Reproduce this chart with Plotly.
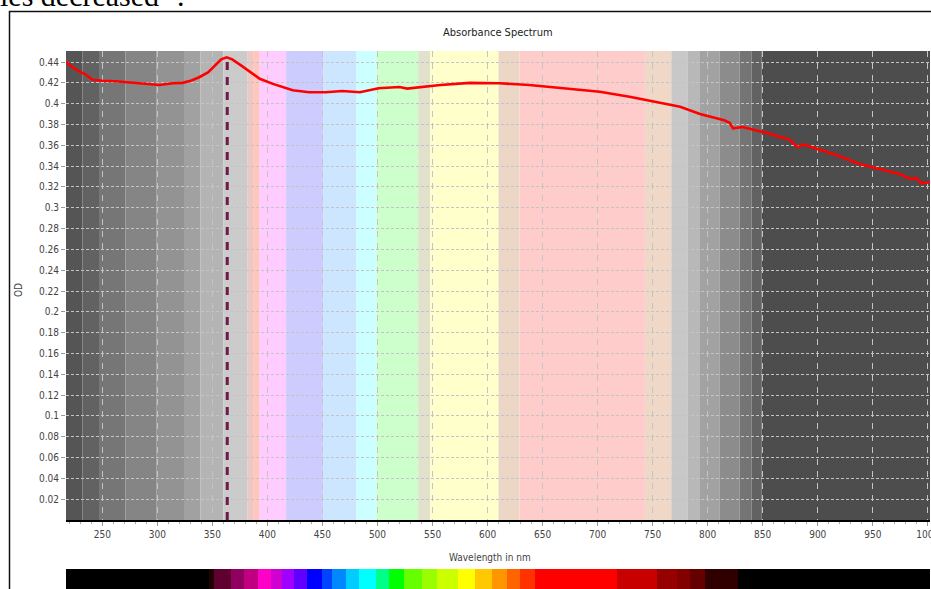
import plotly.graph_objects as go

# ---------------- data ----------------
wavelength = [217, 223, 229, 235, 241, 250, 262, 280, 296, 302, 314, 323, 331, 338, 346, 352,
              358, 363, 368, 376, 384, 393, 405, 414, 423, 438, 453, 468, 484, 501, 520, 527,
              538, 557, 584, 611, 638, 665, 702, 729, 757, 775, 793, 815, 820, 823, 832, 853,
              874, 882, 887, 899, 920, 938, 956, 975, 984, 990, 994, 1002]
od = [0.440, 0.435, 0.431, 0.428, 0.423, 0.422, 0.4216, 0.420, 0.418, 0.418, 0.4196, 0.420,
      0.4222, 0.4254, 0.430, 0.4368, 0.4426, 0.4445, 0.4426, 0.4368, 0.431, 0.4239, 0.419,
      0.416, 0.4128, 0.4109, 0.411, 0.4122, 0.411, 0.4148, 0.416, 0.4145, 0.416, 0.418, 0.420,
      0.4196, 0.418, 0.4155, 0.4115, 0.4067, 0.401, 0.397, 0.390, 0.384, 0.3817, 0.3763,
      0.3776, 0.372, 0.3656, 0.358, 0.3608, 0.3569, 0.3494, 0.342, 0.3375, 0.3322, 0.3278,
      0.3284, 0.3235, 0.3245]

peak_nm = 363.5
peak_od = 0.4445

x_ticks = [250, 300, 350, 400, 450, 500, 550, 600, 650, 700, 750, 800, 850, 900, 950, 1000]
y_ticks = [0.02, 0.04, 0.06, 0.08, 0.1, 0.12, 0.14, 0.16, 0.18, 0.2, 0.22, 0.24, 0.26, 0.28,
           0.3, 0.32, 0.34, 0.36, 0.38, 0.4, 0.42, 0.44]
y_tick_labels = ["0.02", "0.04", "0.06", "0.08", "0.1", "0.12", "0.14", "0.16", "0.18", "0.2",
                 "0.22", "0.24", "0.26", "0.28", "0.3", "0.32", "0.34", "0.36", "0.38", "0.4",
                 "0.42", "0.44"]

# background colour bands (nm)
band_start = [217, 232, 247, 271, 299, 325, 339, 360, 382, 387, 393, 417, 451, 481, 499, 537,
              548, 610, 629, 743, 767, 782, 793, 811, 829, 840, 849]
band_end = [232, 247, 271, 299, 325, 339, 360, 382, 387, 393, 417, 451, 481, 499, 537, 548,
            610, 629, 743, 767, 782, 793, 811, 829, 840, 849, 1002]
band_color = ["#555555", "#626262", "#767676", "#858585", "#939393", "#a1a1a1", "#b4b4b4",
              "#cbcbcb", "#ecc8c4", "#ffc6c0", "#ffccff", "#ccccff", "#cce6ff", "#ccffff",
              "#ccffcc", "#e2e2cc", "#ffffcc", "#ecd6c6", "#ffcccc", "#f0d8c8", "#c8c8c8",
              "#b8b8b8", "#a2a2a2", "#8c8c8c", "#747474", "#626262", "#4d4d4d"]

# spectrum strip below the chart (nm)
strip_start = [217, 347.3, 351.8, 367, 379, 391, 403.4, 413.6, 424.5, 436.4, 450, 459, 471.8,
               483.6, 499, 510.9, 524.5, 540, 554.5, 572.7, 588.2, 603.6, 617.4, 629.2, 642.8,
               717.4, 753.8, 772, 783.8, 797.4, 827.4]
strip_end = strip_start[1:] + [1002]
strip_color = ["#000000", "#200000", "#600030", "#900060", "#c00080", "#ff00c8", "#d000d0",
               "#a000ff", "#6000ff", "#0000ff", "#0044ff", "#0088ff", "#00ccff", "#00ffff",
               "#00ff88", "#00ff00", "#66ff00", "#99ff00", "#ccff00", "#ffff00", "#ffc800",
               "#ff9600", "#ff6400", "#ff3200", "#ff0000", "#c80000", "#960000", "#820000",
               "#640000", "#300000", "#000000"]

# ---------------- figure ----------------
W, H = 931, 589
L, R, T, B = 66, 1, 51, 0
ph = H - T - B
pw = W - L - R


def px_x(px):
    return (px - L) / pw


def px_y(py):
    return (H - B - py) / ph


narrow = "Liberation Sans Narrow, DejaVu Sans Condensed, Arial Narrow, sans-serif"
grid_col = "#c4c4c4"

fig = go.Figure()

fig.add_trace(go.Scatter(
    x=wavelength, y=od, mode="lines",
    line=dict(color="#ff0000", width=2.6),
    xaxis="x", yaxis="y", hoverinfo="skip", showlegend=False))

fig.add_trace(go.Scatter(
    x=[peak_nm, peak_nm], y=[0, peak_od], mode="lines",
    line=dict(color="#6e1a48", width=3, dash="8px,7px"),
    xaxis="x", yaxis="y", hoverinfo="skip", showlegend=False))

fig.add_trace(go.Bar(
    x=[(s + e) / 2 for s, e in zip(strip_start, strip_end)],
    y=[1] * len(strip_start),
    width=[e - s for s, e in zip(strip_start, strip_end)],
    marker=dict(color=strip_color, line=dict(width=0)),
    xaxis="x2", yaxis="y2", hoverinfo="skip", showlegend=False))

shapes = []
for s, e, c in zip(band_start, band_end, band_color):
    shapes.append(dict(type="rect", xref="x", yref="paper", x0=s, x1=e,
                       y0=px_y(520), y1=1, fillcolor=c, line=dict(width=0), layer="below"))

# outer document frame
shapes.append(dict(type="rect", xref="paper", yref="paper",
                   x0=px_x(9.5), x1=px_x(940), y0=px_y(600), y1=px_y(11.5),
                   line=dict(color="#111111", width=1.5), fillcolor="rgba(0,0,0,0)",
                   layer="above"))

y_dom0 = px_y(520)
strip_dom = [px_y(589), px_y(569)]

fig.update_layout(
    width=W, height=H,
    margin=dict(l=L, r=R, t=T, b=B),
    paper_bgcolor="white", plot_bgcolor="rgba(0,0,0,0)",
    showlegend=False,
    shapes=shapes,
    bargap=0,
    xaxis=dict(
        domain=[0, 1], range=[217, 1002], anchor="y",
        tickmode="array", tickvals=x_ticks, ticktext=[str(v) for v in x_ticks],
        ticks="outside", ticklen=4, tickcolor="#999999", tickwidth=1,
        minor=dict(dtick=10, tick0=200, ticks="outside", ticklen=2, tickcolor="#aaaaaa",
                   showgrid=False),
        showgrid=True, gridcolor=grid_col, griddash="6px,6px", gridwidth=1,
        showline=True, linecolor="#000000", linewidth=2,
        tickfont=dict(family=narrow, size=10, color="#444444"),
        ticklabeloverflow="allow",
        zeroline=False, automargin=False, fixedrange=True,
    ),
    yaxis=dict(
        domain=[y_dom0, 1], range=[0, 0.4506], anchor="x",
        tickmode="array", tickvals=y_ticks, ticktext=y_tick_labels,
        ticks="outside", ticklen=4, tickcolor="#999999",
        showgrid=True, gridcolor=grid_col, griddash="3px,2px", gridwidth=1,
        showline=False, zeroline=False,
        tickfont=dict(family=narrow, size=10, color="#444444"),
        automargin=False, fixedrange=True,
    ),
    xaxis2=dict(domain=[0, 1], range=[217, 1002], anchor="y2", visible=False,
                fixedrange=True),
    yaxis2=dict(domain=strip_dom, range=[0, 1], anchor="x2", visible=False,
                fixedrange=True),
    annotations=[
        dict(text="Absorbance Spectrum", xref="paper", yref="paper",
             x=px_x(498), y=px_y(32), showarrow=False, xanchor="center", yanchor="middle",
             font=dict(family=narrow, size=11, color="#222222")),
        dict(text="Wavelength in nm", xref="paper", yref="paper",
             x=px_x(490), y=px_y(557), showarrow=False, xanchor="center", yanchor="middle",
             font=dict(family=narrow, size=10, color="#444444")),
        dict(text="OD", xref="paper", yref="paper", textangle=-90,
             x=px_x(18), y=px_y(290), showarrow=False, xanchor="center", yanchor="middle",
             font=dict(family=narrow, size=10, color="#444444")),
        dict(text="les decreased \u2074.", xref="paper", yref="paper",
             x=px_x(-2), y=px_y(14), showarrow=False, xanchor="left", yanchor="bottom",
             font=dict(family="Liberation Serif, Times New Roman, serif", size=30,
                       color="#000000")),
    ],
)

fig.write_html(
    "out.html",
    config={"displayModeBar": False},
    post_script="document.body.style.margin='0';document.body.style.padding='0';"
                "document.body.style.overflow='hidden';"
                "document.documentElement.style.overflow='hidden';",
)
